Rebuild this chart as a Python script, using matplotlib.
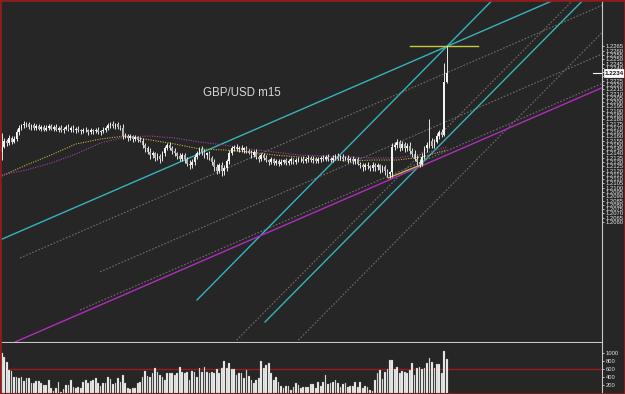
import matplotlib
matplotlib.use("Agg")
import matplotlib.pyplot as plt
from matplotlib.patches import Rectangle
import numpy as np

plt.rcParams['font.family'] = ['Liberation Sans', 'DejaVu Sans']

BG = "#262626"
BASE = 1.2      # prices stored as pips above 1.2000
PIP = 1e-4

# ---------------- data (pips above 1.2000) ----------------
closes = [
    148, 155, 152, 158, 154, 157, 165, 170, 173, 175,
    174, 171, 173, 170, 172, 169, 171, 168, 170, 172,
    169, 171, 168, 170, 167, 169, 171, 168, 170, 167,
    169, 167, 166, 168, 167, 165, 167, 166, 168, 165,
    166, 168, 170, 173, 175, 172, 174, 171, 170, 160,
    161, 158, 160, 157, 159, 156, 155, 150, 146, 142,
    138, 140, 135, 137, 134, 140, 146, 150, 147, 143,
    140, 137, 134, 138, 133, 128, 126, 130, 136, 141,
    145, 142, 138, 140, 135, 130, 124, 120, 126, 119,
    123, 131, 140, 146, 148, 145, 147, 144, 146, 143,
    141, 138, 142, 136, 133, 138, 135, 132, 130, 133,
    129, 131, 128, 130, 132, 129, 131, 133, 130, 132,
    133, 134, 131, 133, 135, 132, 134, 131, 133, 135,
    133, 136, 134, 132, 135, 137, 134, 136, 134, 135,
    132, 134, 131, 133, 128, 126, 124, 127, 125, 123,
    127, 124, 126, 121, 124, 119, 116, 118, 148, 150,
    153, 147, 151, 146, 149, 143, 139, 134, 130, 128,
    136, 146, 150, 155, 149, 154, 160, 165, 162, 224,
    234,
]
first_open = 142
upper_wick = [
    16, 3, 2, 4, 2, 3, 4, 3, 2, 3,
    2, 3, 2, 3, 2, 3, 2, 2, 3, 2,
    3, 2, 3, 2, 3, 2, 2, 3, 2, 3,
    2, 3, 2, 2, 3, 2, 3, 2, 2, 3,
    2, 3, 2, 3, 2, 3, 2, 3, 2, 4,
    3, 2, 3, 2, 3, 2, 3, 3, 2, 3,
    4, 3, 2, 3, 2, 3, 3, 2, 3, 2,
    3, 2, 4, 3, 2, 3, 4, 3, 3, 2,
    3, 4, 3, 2, 3, 2, 3, 4, 3, 4,
    3, 3, 4, 3, 2, 3, 2, 3, 2, 3,
    2, 3, 2, 3, 2, 3, 2, 3, 2, 3,
    2, 3, 2, 3, 2, 3, 2, 3, 2, 3,
    3, 2, 3, 2, 3, 2, 3, 2, 3, 2,
    3, 2, 3, 2, 3, 2, 3, 2, 3, 2,
    3, 2, 3, 2, 3, 2, 3, 2, 3, 2,
    3, 2, 3, 2, 3, 2, 3, 2, 4, 3,
    4, 3, 4, 3, 3, 4, 3, 5, 4, 3,
    4, 3, 4, 25, 3, 3, 4, 3, 4, 22,
    31,
]
lower_wick = [
    10, 2, 3, 2, 3, 2, 2, 3, 2, 3,
    3, 2, 3, 2, 3, 2, 3, 2, 2, 3,
    2, 3, 2, 3, 2, 3, 2, 2, 3, 2,
    3, 2, 3, 2, 2, 3, 2, 3, 2, 2,
    3, 2, 3, 2, 3, 2, 3, 2, 3, 3,
    2, 3, 2, 3, 2, 3, 2, 3, 4, 3,
    4, 3, 4, 3, 5, 3, 3, 2, 3, 4,
    3, 4, 3, 3, 4, 3, 4, 3, 3, 3,
    3, 4, 3, 4, 3, 4, 5, 4, 3, 5,
    4, 3, 3, 2, 3, 2, 3, 2, 3, 3,
    2, 3, 2, 3, 3, 2, 3, 2, 3, 2,
    3, 2, 3, 2, 2, 3, 2, 3, 2, 2,
    2, 3, 2, 2, 3, 2, 3, 2, 2, 3,
    2, 2, 3, 2, 2, 3, 2, 2, 3, 2,
    3, 2, 3, 3, 2, 3, 4, 3, 3, 4,
    3, 4, 3, 4, 3, 4, 4, 5, 5, 4,
    3, 4, 3, 4, 3, 4, 3, 3, 4, 4,
    3, 3, 4, 3, 3, 3, 2, 3, 3, 2,
    2,
]
volumes = [
    1000, 900, 770, 580, 550, 410, 410, 370, 390, 310,
    370, 370, 240, 240, 310, 300, 260, 200, 200, 325,
    115, 50, 115, 270, 30, 90, 200, 200, 325, 160,
    115, 140, 115, 285, 325, 260, 310, 325, 370, 240,
    175, 240, 240, 410, 340, 225, 240, 370, 285, 450,
    240, 115, 90, 115, 130, 240, 285, 410, 550, 425,
    410, 490, 615, 535, 450, 410, 325, 490, 510, 510,
    450, 510, 660, 535, 490, 535, 325, 550, 535, 410,
    615, 535, 660, 535, 510, 535, 490, 590, 490, 615,
    810, 615, 740, 590, 590, 450, 510, 490, 370, 575,
    425, 325, 260, 325, 370, 800, 615, 690, 740, 510,
    325, 410, 285, 175, 115, 175, 175, 75, 160, 240,
    200, 115, 140, 140, 160, 225, 225, 115, 285, 175,
    285, 450, 225, 240, 285, 325, 260, 160, 225, 260,
    160, 175, 175, 285, 160, 285, 115, 175, 140, 75,
    60, 325, 510, 575, 340, 535, 590, 825, 825, 590,
    640, 490, 550, 535, 490, 575, 760, 450, 615, 660,
    590, 615, 740, 875, 770, 615, 725, 725, 510, 1040,
    850,
]

# moving averages sampled at these bars
ma_bars = [0, 10, 20, 30, 40, 50, 60, 70, 80, 90, 100, 110, 120, 130, 140, 150, 160, 170, 180]
ma_fast = [113.7, 126.6, 138.3, 151.1, 156.9, 160.4, 155.8, 151.1, 145.3, 144.1,
           141.8, 138.3, 135.9, 133.6, 131.2, 132.4, 132.4, 135.9, 144.1]
ma_slow = [114.9, 120.7, 128.9, 139.4, 152.3, 159.3, 160.4, 158.1, 153.4, 149.9,
           145.3, 141.8, 138.3, 137.1, 135.9, 134.8, 134.8, 139.4, 147.6]

# drawn rays: start (bar, pips) and a second point (bar, pips) giving the direction
cyan_rays = [((-1.0, 38.6), (180.0, 265.0)),
             ((79.0, -31.1), (180.0, 265.0)),
             ((106.5, -56.8), (235.2, 319.3))]
magenta_ray = ((5.4, -80.2), (238.8, 211.8))
grey_rays = [((7.4, 18.0), (107.4, 143.3)),
             ((39.8, 1.8), (139.8, 127.1)),
             ((31.7, -42.8), (131.7, 82.5)),
             ((95.0, -78.0), (180.0, 170.0)),
             ((120.0, -78.0), (200.0, 156.0))]
high_marker = (165.2, 192.7, 265.0)
low_trend = ((156.3, 111.4), (170.4, 127.7))
last_price = 1.2234
vol_ref = 600

price_ticks = np.round(np.arange(1.2060, 1.22651, 0.0005), 4)
vol_ticks = [200, 400, 600, 800, 1000]

# ---------------- figure ----------------
W, H = 625, 394
fig = plt.figure(figsize=(W / 100, H / 100), dpi=100, facecolor=BG)
ax = fig.add_axes([0, 52 / H, 602 / W, 342 / H], facecolor=BG)
axv = fig.add_axes([0, 1 / H, 602 / W, 50 / H], facecolor=BG)

N = len(closes)
x = np.arange(N)
c = BASE + np.array(closes) * PIP
o = BASE + np.array([first_open] + closes[:-1]) * PIP
hi = np.maximum(o, c) + np.array(upper_wick) * PIP
lo = np.minimum(o, c) - np.array(lower_wick) * PIP

def P(p):
    return BASE + np.asarray(p) * PIP

def ray(a, b, **kw):
    slope = (b[1] - a[1]) / (b[0] - a[0])
    ax.plot([a[0], a[0] + 400], [P(a[1]), P(a[1] + slope * 400)], **kw)

for a, b in grey_rays:
    ray(a, b, color="#6e6e6e", lw=0.8, ls=(0, (1.5, 1.5)), zorder=1)
for a, b in cyan_rays:
    ray(a, b, color="#34b4bc", lw=1.0, zorder=2)
ray(*magenta_ray, color="#b02cc0", lw=1.0, zorder=2)
ax.plot([high_marker[0], high_marker[1]], [P(high_marker[2])] * 2, color="#c8c83a", lw=1.0, zorder=2)
a, b = low_trend
ax.plot([a[0], b[0]], [P(a[1]), P(b[1])], color="#c8c83a", lw=0.9, zorder=2)

# moving averages
ax.plot(ma_bars, P(ma_fast), color="#c0b040", lw=0.8, ls=(0, (1, 1.2)), zorder=3)
ax.plot(ma_bars, P(ma_slow), color="#a040a8", lw=0.8, ls=(0, (1, 1.2)), zorder=3)

# candles
ax.vlines(x, lo, hi, color="#e6e6e6", lw=0.7, zorder=4)
up = c >= o
body_h = np.where(np.abs(c - o) < 0.5 * PIP, 0.5 * PIP, c - o)
ax.bar(x[up], body_h[up], bottom=o[up], width=0.7, color="#f2f2f2", linewidth=0, zorder=5)
ax.bar(x[~up], body_h[~up], bottom=o[~up], width=0.7, color="#b4b4b4", linewidth=0, zorder=5)

ax.text(0.337, 0.728, "GBP/USD m15", transform=ax.transAxes, color="#d8d8d8",
        fontsize=8.3, va="center", ha="left")

ax.set_xlim(-0.69, 242.8)
ax.set_ylim(P(-80.2), P(319.3))
for s in ["left", "top"]:
    ax.spines[s].set_visible(False)
ax.spines["bottom"].set_color("#c8c8c8")
ax.spines["right"].set_color("#c8c8c8")
ax.set_xticks([])
ax.yaxis.tick_right()
ax.set_yticks(price_ticks)
ax.set_yticklabels([f"{t:.4f}" for t in price_ticks])
ax.tick_params(axis="y", colors="#e0e0e0", labelsize=4.2, length=1.5, width=0.6, pad=1.0,
               labelcolor="#e8e8e8")

# last price box
ax.annotate(f"{last_price:.4f}", xy=(1.0, last_price), xycoords=("axes fraction", "data"),
            xytext=(2.0, 0), textcoords="offset points", fontsize=4.5, color="#111111",
            va="center", ha="left", fontweight="bold", zorder=20, annotation_clip=False,
            bbox=dict(boxstyle="square,pad=0.2", fc="white", ec="white", lw=0.5))
ax.plot([0.985, 0.998], [last_price, last_price], transform=ax.get_yaxis_transform(),
        color="white", lw=0.8, clip_on=False, zorder=20)

# volume
axv.bar(x, volumes, width=0.7, color="#f4f4f4", edgecolor="#8a8a8a", linewidth=0.2, zorder=3)
axv.axhline(vol_ref, color="#9a1c1c", lw=1.0, zorder=2)
axv.set_xlim(-0.69, 242.8)
axv.set_ylim(0, 1250)
for s in ["left", "top", "bottom"]:
    axv.spines[s].set_visible(False)
axv.spines["right"].set_color("#c8c8c8")
axv.set_xticks([])
axv.yaxis.tick_right()
axv.set_yticks(vol_ticks)
axv.set_yticklabels([str(v) for v in vol_ticks])
axv.tick_params(axis="y", colors="#e0e0e0", labelsize=4.2, length=1.5, width=0.6, pad=1.0)

# red frame
fig.patches.append(Rectangle((0, 0), 1, 1, transform=fig.transFigure, fill=False,
                             ec="#8c1e1e", lw=2.0, zorder=50))

fig.savefig("out.png", dpi=100, facecolor=BG)
